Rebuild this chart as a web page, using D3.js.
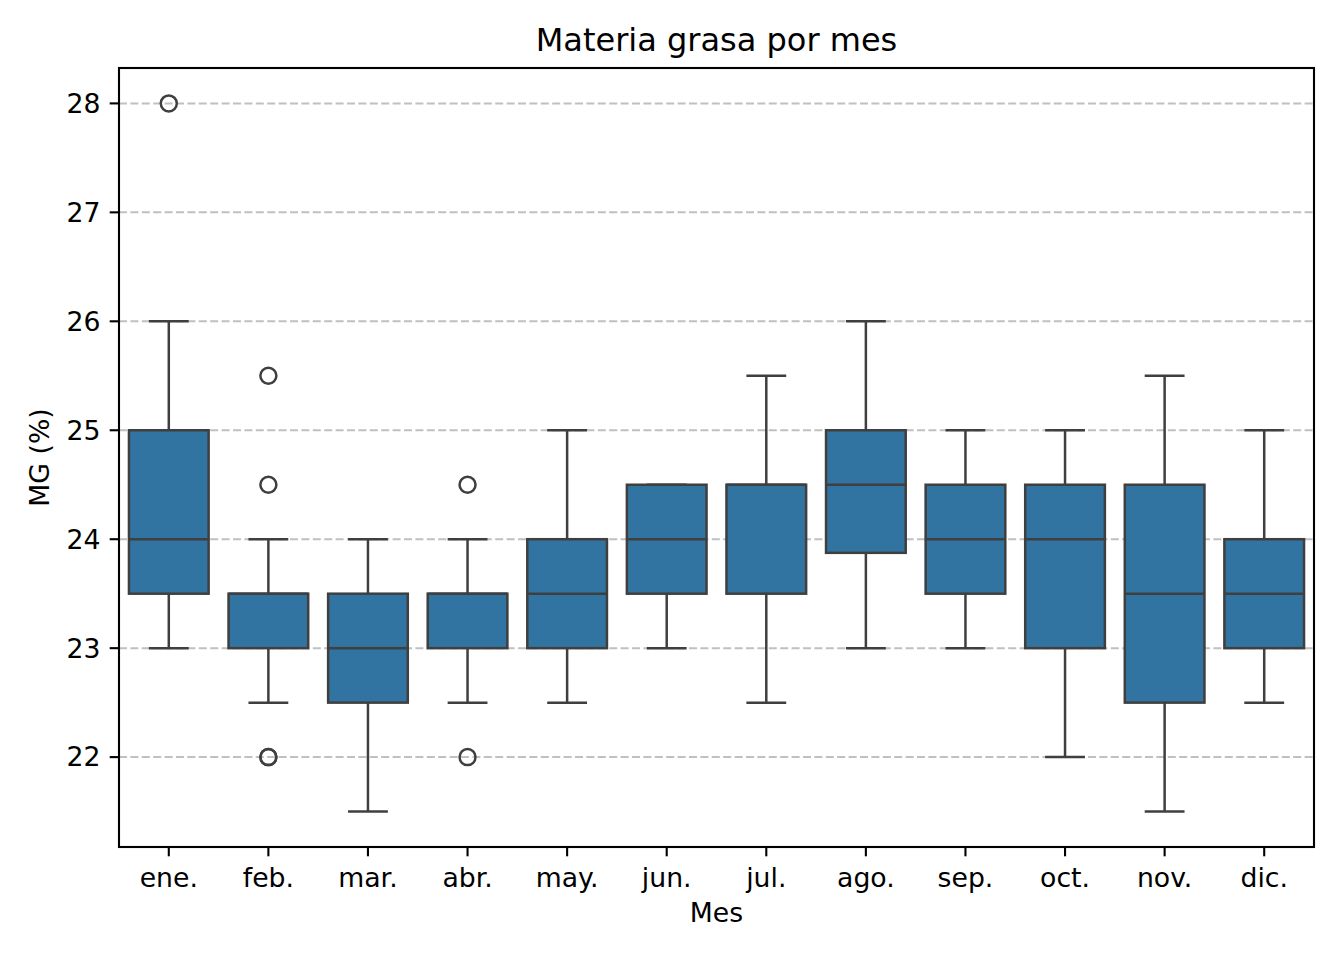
<!DOCTYPE html>
<html>
<head>
<meta charset="utf-8">
<script src="https://cdn.jsdelivr.net/npm/d3@7"></script>
<style>
  body { margin: 0; background: #fff; }
  text { font-family: "DejaVu Sans", sans-serif; fill: #000; }
</style>
</head>
<body>
<svg id="chart" width="1344" height="960"></svg>
<script>
// valores
var months = ["ene.","feb.","mar.","abr.","may.","jun.","jul.","ago.","sep.","oct.","nov.","dic."];
var whiskerLow  = [23, 22.5, 21.5, 22.5, 22.5, 23, 22.5, 23, 23, 22, 21.5, 22.5];
var q1          = [23.5, 23, 22.5, 23, 23, 23.5, 23.5, 23.875, 23.5, 23, 22.5, 23];
var median      = [24, 23.5, 23, 23.5, 23.5, 24, 24.5, 24.5, 24, 24, 23.5, 23.5];
var q3          = [25, 23.5, 23.5, 23.5, 24, 24.5, 24.5, 25, 24.5, 24.5, 24.5, 24];
var whiskerHigh = [26, 24, 24, 24, 25, 24.5, 25.5, 26, 25, 25, 25.5, 25];
var outliers    = [[28], [25.5, 24.5, 22, 22], [], [24.5, 22], [], [], [], [], [], [], [], []];
var yTicks = [22, 23, 24, 25, 26, 27, 28];

var plotL = 119, plotR = 1314, plotT = 68, plotB = 847;
var boxFill = "#3274a1", edge = "#3f3f3f";

var svg = d3.select("#chart");

var x = d3.scaleBand()
	.domain(months)
	.range([plotL, plotR])
	.paddingInner(0.2)
	.paddingOuter(0.1);

var y = d3.scaleLinear()
	.domain([21.175, 28.325])
	.range([plotB, plotT]);

// rejilla horizontal
svg.append("g").selectAll("line")
	.data(yTicks)
	.enter().append("line")
	.attr("x1", plotL).attr("x2", plotR)
	.attr("y1", function(d){ return y(d); })
	.attr("y2", function(d){ return y(d); })
	.attr("stroke", "#c0c0c0")
	.attr("stroke-width", 2)
	.attr("stroke-dasharray", "8,3.4");

var data = months.map(function(m, i){
	return {m: m, lo: whiskerLow[i], q1: q1[i], med: median[i], q3: q3[i], hi: whiskerHigh[i], out: outliers[i]};
});

var boxes = svg.append("g").selectAll("g")
	.data(data)
	.enter().append("g");

var bw = x.bandwidth();
function cx(d){ return x(d.m) + bw/2; }

// bigotes
boxes.append("line")
	.attr("x1", cx).attr("x2", cx)
	.attr("y1", function(d){ return y(d.lo); })
	.attr("y2", function(d){ return y(d.q1); })
	.attr("stroke", edge).attr("stroke-width", 2.5);
boxes.append("line")
	.attr("x1", cx).attr("x2", cx)
	.attr("y1", function(d){ return y(d.q3); })
	.attr("y2", function(d){ return y(d.hi); })
	.attr("stroke", edge).attr("stroke-width", 2.5);
// tapas
["lo","hi"].forEach(function(k){
	boxes.append("line")
		.attr("x1", function(d){ return cx(d) - bw/4; })
		.attr("x2", function(d){ return cx(d) + bw/4; })
		.attr("y1", function(d){ return y(d[k]); })
		.attr("y2", function(d){ return y(d[k]); })
		.attr("stroke", edge).attr("stroke-width", 2.5);
});

// cajas
boxes.append("rect")
	.attr("x", function(d){ return x(d.m); })
	.attr("width", bw)
	.attr("y", function(d){ return y(d.q3); })
	.attr("height", function(d){ return y(d.q1) - y(d.q3); })
	.attr("fill", boxFill)
	.attr("stroke", edge).attr("stroke-width", 2.5);

// mediana
boxes.append("line")
	.attr("x1", function(d){ return x(d.m); })
	.attr("x2", function(d){ return x(d.m) + bw; })
	.attr("y1", function(d){ return y(d.med); })
	.attr("y2", function(d){ return y(d.med); })
	.attr("stroke", edge).attr("stroke-width", 2.5);

// atipicos
boxes.selectAll("circle")
	.data(function(d){ return d.out.map(function(v){ return {m: d.m, v: v}; }); })
	.enter().append("circle")
	.attr("cx", cx)
	.attr("cy", function(d){ return y(d.v); })
	.attr("r", 8)
	.attr("fill", "none")
	.attr("stroke", edge).attr("stroke-width", 2.5);

// marco
svg.append("rect")
	.attr("x", plotL).attr("y", plotT)
	.attr("width", plotR - plotL).attr("height", plotB - plotT)
	.attr("fill", "none").attr("stroke", "#000").attr("stroke-width", 2.1);

// eje x
svg.append("g").selectAll("line")
	.data(months).enter().append("line")
	.attr("x1", function(d){ return x(d) + bw/2; })
	.attr("x2", function(d){ return x(d) + bw/2; })
	.attr("y1", plotB).attr("y2", plotB + 9.3)
	.attr("stroke", "#000").attr("stroke-width", 2.1);
svg.append("g").selectAll("text")
	.data(months).enter().append("text")
	.attr("x", function(d){ return x(d) + bw/2; })
	.attr("y", 887)
	.attr("text-anchor", "middle")
	.attr("font-size", "26.7px")
	.text(function(d){ return d; });

// eje y
svg.append("g").selectAll("line")
	.data(yTicks).enter().append("line")
	.attr("x1", plotL - 9.3).attr("x2", plotL)
	.attr("y1", function(d){ return y(d); })
	.attr("y2", function(d){ return y(d); })
	.attr("stroke", "#000").attr("stroke-width", 2.1);
svg.append("g").selectAll("text")
	.data(yTicks).enter().append("text")
	.attr("x", plotL - 18.6)
	.attr("y", function(d){ return y(d); })
	.attr("dy", "0.35em")
	.attr("text-anchor", "end")
	.attr("font-size", "26.7px")
	.text(function(d){ return d; });

// titulos
svg.append("text")
	.attr("x", (plotL + plotR)/2).attr("y", 51)
	.attr("text-anchor", "middle")
	.attr("font-size", "32px")
	.text("Materia grasa por mes");
svg.append("text")
	.attr("x", (plotL + plotR)/2).attr("y", 922)
	.attr("text-anchor", "middle")
	.attr("font-size", "26.7px")
	.text("Mes");
svg.append("text")
	.attr("transform", "translate(49," + ((plotT + plotB)/2) + ") rotate(-90)")
	.attr("text-anchor", "middle")
	.attr("font-size", "26.7px")
	.text("MG (%)");
</script>
</body>
</html>
